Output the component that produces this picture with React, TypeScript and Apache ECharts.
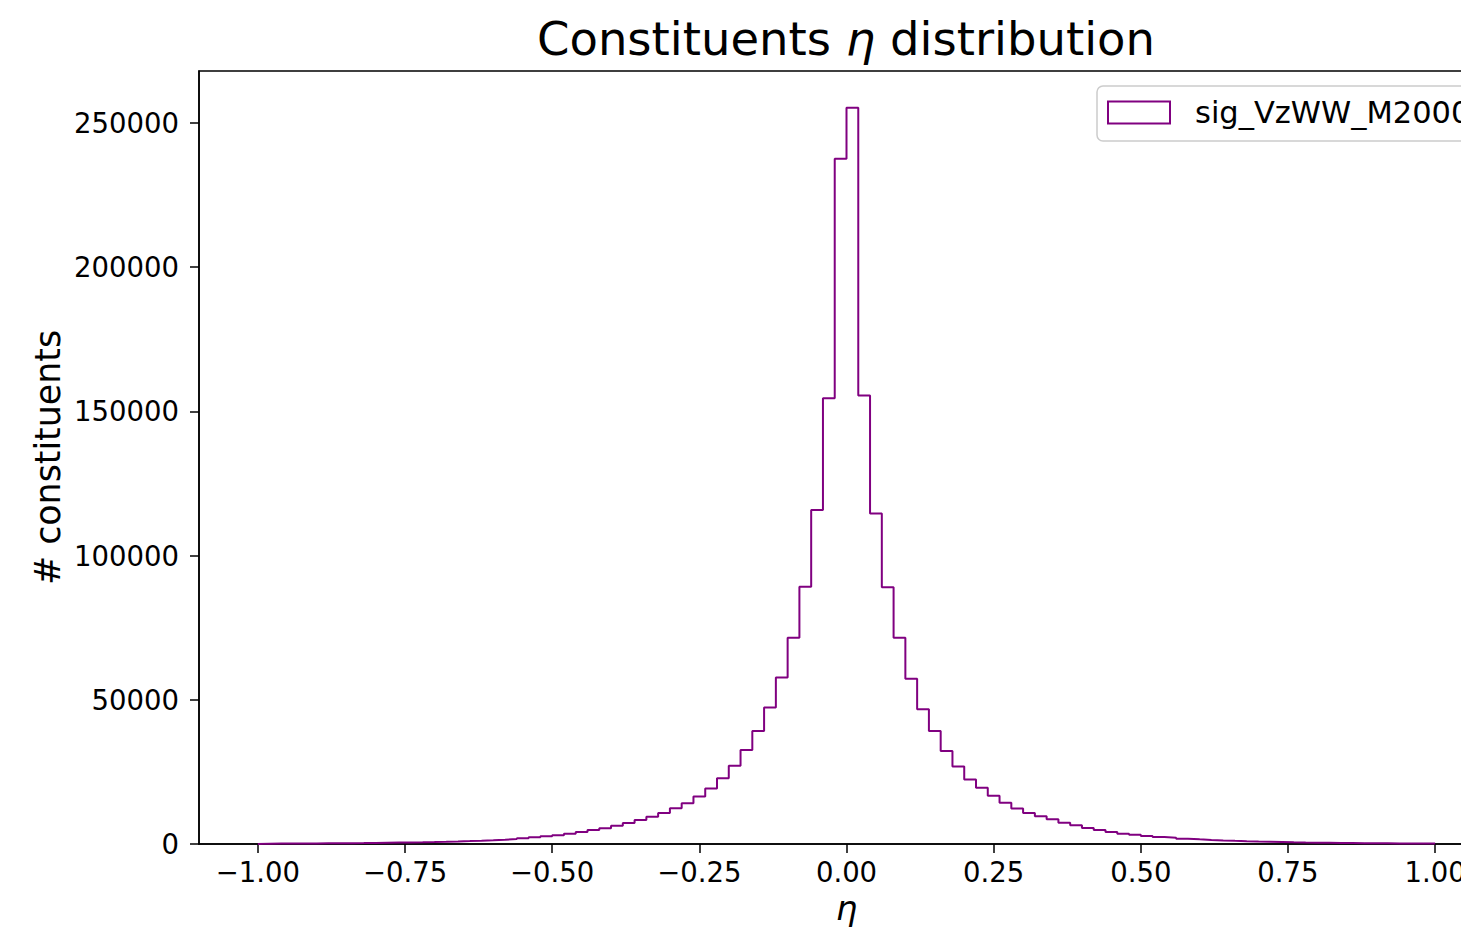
import React, { useEffect, useRef } from "react";
import * as echarts from "echarts";

// Histogram of eta: 100 bins of width 0.02 from -1.00 to 1.00
const binStart = -1.0;
const binWidth = 0.02;

// bins from [-1.00,-0.98] to [-0.02,0.00]
const leftCounts = [
  130, 145, 165, 185, 210, 235, 265, 300, 335, 375,
  425, 480, 540, 610, 690, 780, 890, 1010, 1150, 1310,
  1500, 1720, 1970, 2310, 2660, 3000, 3580, 4160, 4850, 5500,
  6300, 7280, 8320, 9470, 10750, 12400, 14100, 16500, 19200, 22800,
  27150, 32600, 39200, 47300, 57700, 71500, 89200, 115800, 154500, 237500,
];

// bins from [0.00,0.02] to [0.98,1.00]
const rightCounts = [
  255200, 155500, 114600, 89000, 71500, 57300, 46700, 39200, 32200, 26900,
  22400, 19500, 16750, 14300, 12300, 10750, 9590, 8550, 7400, 6470,
  5550, 4850, 4160, 3580, 3240, 2770, 2430, 2200, 1850, 1620,
  1420, 1250, 1100, 970, 860, 760, 670, 590, 520, 460,
  410, 360, 320, 285, 250, 225, 200, 175, 155, 135,
];

const xTicks = [-1.0, -0.75, -0.5, -0.25, 0, 0.25, 0.5, 0.75, 1.0];
const yTicks = [0, 50000, 100000, 150000, 200000, 250000];
const seriesName = "sig_VzWW_M2000";
const xMin = -1.1;
const xMax = 1.1;
const yMax = 267960;

const FONT = "DejaVu Sans";
const PURPLE = "#800080";

export default function App() {
  const ref = useRef<HTMLDivElement>(null);

  useEffect(() => {
    if (!ref.current) return;
    const chart = echarts.init(ref.current, undefined, { renderer: "svg" });

    const counts = [...leftCounts, ...rightCounts];
    const pts: number[][] = [];
    pts.push([binStart, 0]);
    counts.forEach((c, i) => {
      pts.push([+(binStart + i * binWidth).toFixed(4), c]);
    });
    const lastEdge = +(binStart + counts.length * binWidth).toFixed(4);
    pts.push([lastEdge, counts[counts.length - 1]]);
    pts.push([lastEdge, 0]);

    const fmtX = (v: number) =>
      (v < 0 ? "\u2212" : "") + Math.abs(v).toFixed(2);

    chart.setOption({
      animation: false,
      backgroundColor: "#ffffff",
      title: {
        text: "{a|Constituents }{b|η}{a| distribution}",
        left: 841,
        top: 10,
        textAlign: "center",
        textStyle: {
          rich: {
            a: { fontFamily: FONT, fontSize: 46.5, color: "#000", fontWeight: "normal" },
            b: { fontFamily: FONT, fontSize: 46.5, color: "#000", fontStyle: "italic", fontWeight: "normal" },
          },
        },
      },
      legend: {
        show: true,
        left: 1097,
        top: 86,
        orient: "horizontal",
        backgroundColor: "#ffffff",
        borderColor: "#cccccc",
        borderWidth: 1.5,
        borderRadius: 6,
        padding: [11, 40, 13, 10],
        itemWidth: 62,
        itemHeight: 22,
        data: [
          {
            name: seriesName,
            icon: "rect",
            itemStyle: { color: "rgba(255,255,255,0)", borderColor: PURPLE, borderWidth: 2 },
          },
        ],
        textStyle: {
          fontFamily: FONT,
          fontSize: 30.5,
          color: "#000",
          lineHeight: 30,
          padding: [0, 0, 0, 20],
        },
      },
      grid: {
        left: 199,
        top: 71,
        width: 1295,
        height: 773,
        show: true,
        borderColor: "#000",
        borderWidth: 1.5,
        backgroundColor: "#fff",
        containLabel: false,
      },
      xAxis: {
        type: "value",
        min: xMin,
        max: xMax,
        name: "η",
        nameLocation: "middle",
        nameGap: 42,
        nameTextStyle: { fontFamily: FONT, fontSize: 34, fontStyle: "italic", color: "#000" },
        axisLine: { show: true, onZero: false, lineStyle: { color: "#000", width: 1.5 } },
        axisTick: { show: true, length: 9, inside: false, customValues: xTicks, lineStyle: { color: "#000", width: 1.5 } },
        axisLabel: {
          show: true,
          customValues: xTicks,
          margin: 14,
          fontFamily: FONT,
          fontSize: 27.5,
          color: "#000",
          formatter: fmtX,
        },
        splitLine: { show: false },
      },
      yAxis: {
        type: "value",
        min: 0,
        max: yMax,
        name: "# constituents",
        nameLocation: "middle",
        nameRotate: 90,
        nameGap: 134,
        nameMoveOverlap: false,
        nameTextStyle: { fontFamily: FONT, fontSize: 34.8, color: "#000" },
        axisLine: { show: true, onZero: false, lineStyle: { color: "#000", width: 1.5 } },
        axisTick: { show: true, length: 9, inside: false, customValues: yTicks, lineStyle: { color: "#000", width: 1.5 } },
        axisLabel: {
          show: true,
          customValues: yTicks,
          margin: 20,
          fontFamily: FONT,
          fontSize: 27.5,
          color: "#000",
          formatter: (v: number) => String(v),
        },
        splitLine: { show: false },
      },
      series: [
        {
          name: seriesName,
          type: "line",
          step: "end",
          data: pts,
          showSymbol: false,
          symbol: "none",
          lineStyle: { color: PURPLE, width: 2 },
          itemStyle: { color: PURPLE },
        },
      ],
    });

    return () => chart.dispose();
  }, []);

  return (
    <div
      style={{ position: "absolute", left: 0, top: 0, width: 1461, height: 934, overflow: "hidden", background: "#fff" }}
    >
      <div ref={ref} style={{ width: 1540, height: 934 }} />
    </div>
  );
}
